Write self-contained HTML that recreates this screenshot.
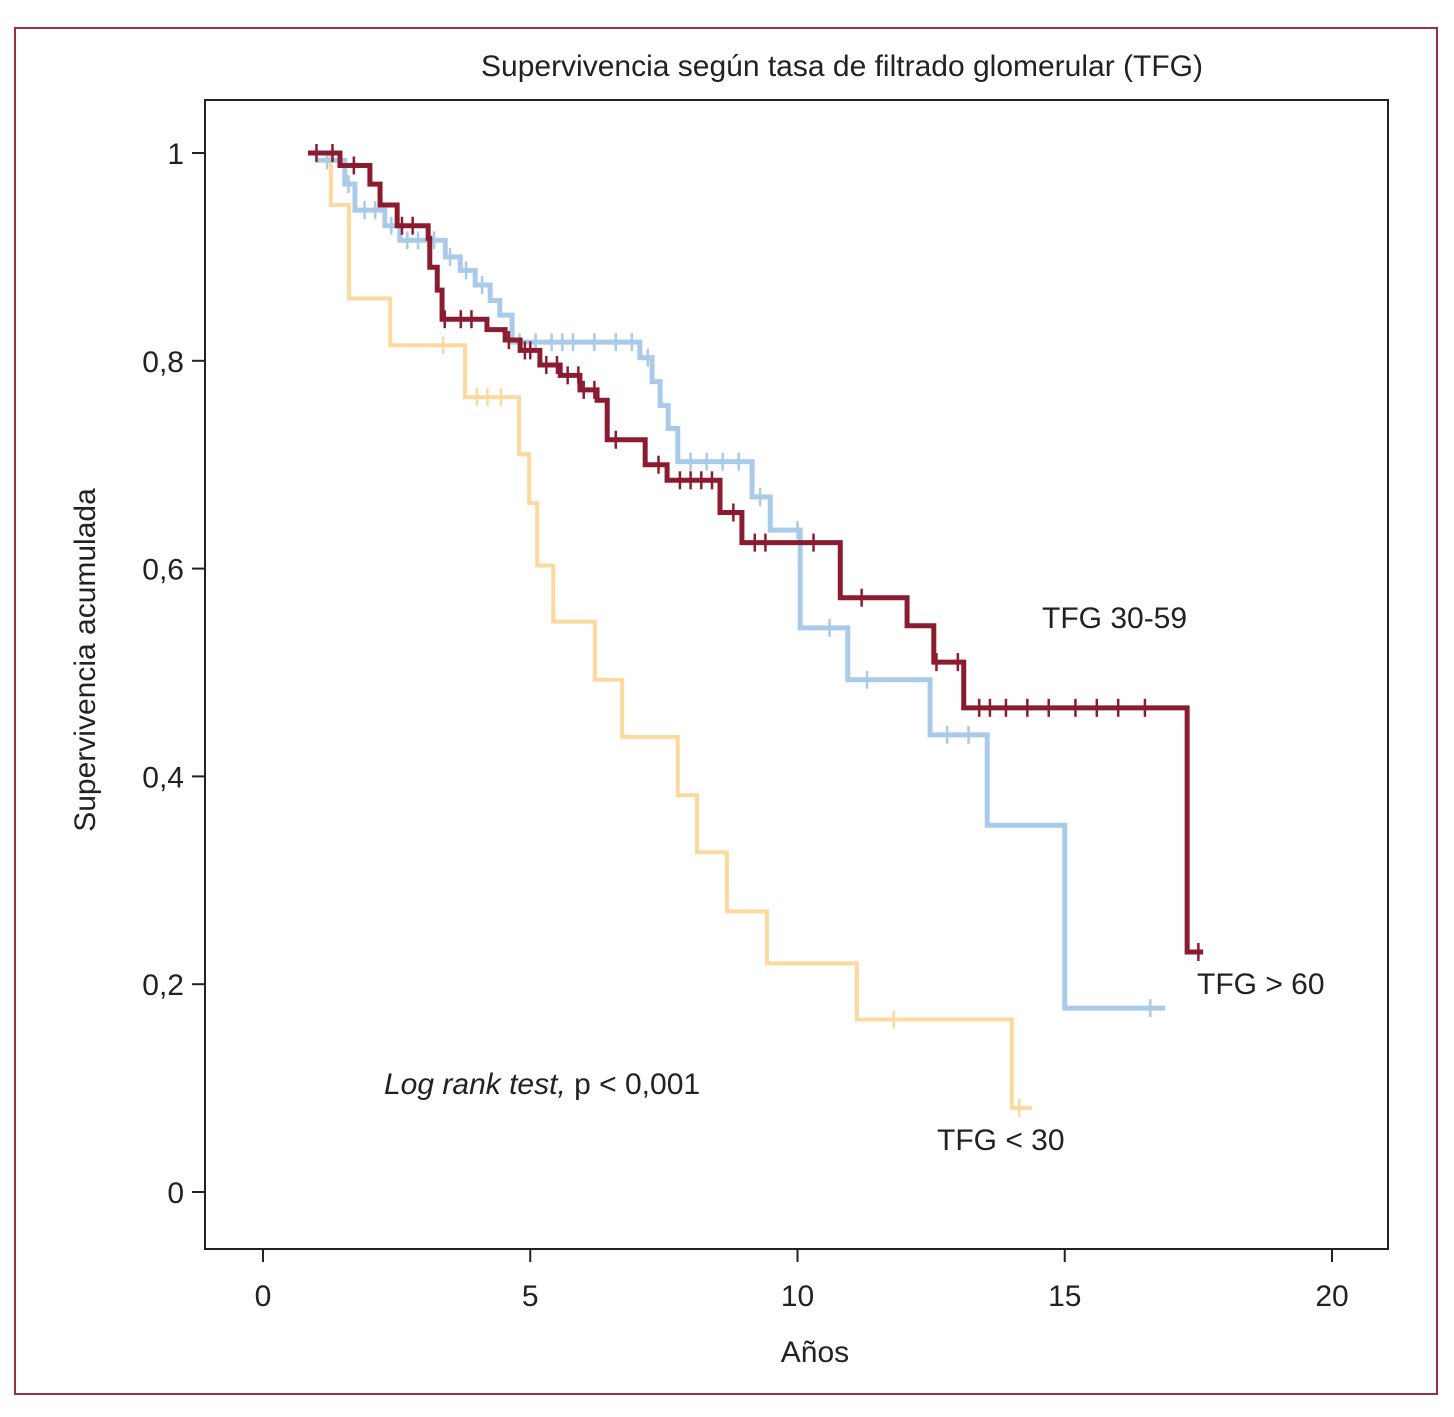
<!DOCTYPE html>
<html><head><meta charset="utf-8"><style>
html,body{margin:0;padding:0;background:#fff}
svg text{font-family:"Liberation Sans Narrow","Liberation Sans",sans-serif;fill:#222}
</style></head><body>
<svg id="chart" width="1454" height="1412" viewBox="0 0 1454 1412" xmlns="http://www.w3.org/2000/svg">
<rect x="15" y="28" width="1422" height="1366" fill="none" stroke="#9c3040" stroke-width="2"/>
<text x="842" y="76" font-size="30" text-anchor="middle">Supervivencia según tasa de filtrado glomerular (TFG)</text>
<rect x="205" y="100" width="1183" height="1149" fill="none" stroke="#222" stroke-width="2"/>
<g id="axes"></g>
<g id="series"></g>
<text x="95" y="660" font-size="30" text-anchor="middle" transform="rotate(-90 95 660)">Supervivencia acumulada</text>
<text x="815" y="1362" font-size="30" text-anchor="middle">Años</text>
<text x="1042" y="628" font-size="30">TFG 30-59</text>
<text x="1197" y="994" font-size="30">TFG &gt; 60</text>
<text x="937" y="1150" font-size="30">TFG &lt; 30</text>
<text x="384" y="1094" font-size="30"><tspan font-style="italic">Log rank test,</tspan> p &lt; 0,001</text>
</svg>
<script>
const xTicks=[0,5,10,15,20];
const yTicks=[0,0.2,0.4,0.6,0.8,1];
const yTickLabels=["0","0,2","0,4","0,6","0,8","1"];
// TFG < 30
const lowStart=[0.88,1.0];
const lowTimes=[1.27,1.61,2.38,3.78,4.79,4.98,5.13,5.43,6.21,6.72,7.76,8.12,8.68,9.43,11.11,14.01];
const lowSurv=[0.95,0.86,0.815,0.765,0.71,0.663,0.603,0.549,0.493,0.438,0.382,0.327,0.27,0.22,0.166,0.081];
const lowEnd=14.39;
const lowCens=[3.37,4.0,4.2,4.45,11.8,14.15];
// TFG 30-59
const midStart=[0.84,1.0];
const midTimes=[1.44,2.0,2.19,2.51,3.09,3.12,3.26,3.35,4.19,4.53,4.81,5.18,5.56,5.93,6.25,6.44,7.15,7.56,8.55,8.96,10.8,12.05,12.55,13.11,17.29];
const midSurv=[0.988,0.97,0.95,0.93,0.918,0.89,0.868,0.84,0.83,0.82,0.81,0.796,0.786,0.772,0.762,0.724,0.70,0.685,0.654,0.625,0.572,0.545,0.51,0.466,0.231];
const midEnd=17.59;
const midCens=[1.0,1.3,1.7,2.6,2.8,3.4,3.7,3.9,4.6,4.9,5.0,5.3,5.5,5.7,5.9,6.0,6.2,6.6,7.4,7.8,8.0,8.2,8.4,8.8,9.2,9.4,10.3,11.2,12.6,13.0,13.4,13.6,13.9,14.3,14.7,15.2,15.6,16.0,16.5,17.5];
// TFG > 60
const highStart=[0.98,0.993];
const highTimes=[1.53,1.72,2.28,2.56,3.41,3.69,3.97,4.25,4.43,4.66,7.05,7.28,7.43,7.58,7.76,9.15,9.49,10.05,10.94,12.48,13.55,15.0];
const highSurv=[0.97,0.945,0.93,0.916,0.90,0.887,0.873,0.858,0.844,0.818,0.803,0.78,0.757,0.735,0.703,0.669,0.637,0.543,0.493,0.44,0.353,0.177];
const highEnd=16.88;
const highCens=[1.2,1.6,1.9,2.1,2.4,2.7,2.9,3.2,3.5,3.8,4.1,4.8,5.1,5.4,5.6,5.8,6.2,6.6,6.9,7.2,8.0,8.3,8.6,8.9,9.3,10.0,10.6,11.3,12.8,13.2,16.6];

const X=t=>263+t*53.45, Y=s=>1192-s*1039;
const NS="http://www.w3.org/2000/svg";
function mk(tag,attrs,parent){const e=document.createElementNS(NS,tag);for(const k in attrs)e.setAttribute(k,attrs[k]);parent.appendChild(e);return e;}
const ax=document.getElementById('axes');
xTicks.forEach(v=>{
 const l=mk('line',{x1:X(v),x2:X(v),y1:1249,y2:1262,stroke:'#222','stroke-width':2},ax);
 
 
 const t=mk('text',{x:X(v),y:1306,'font-size':30,'text-anchor':'middle'},ax);t.textContent=v;
 
 
});
yTicks.forEach((v,i)=>{
 const l=mk('line',{x1:192,x2:205,y1:Y(v),y2:Y(v),stroke:'#222','stroke-width':2},ax);
 
 
 const t=mk('text',{x:184,y:Y(v)+11,'font-size':30,'text-anchor':'end'},ax);t.textContent=yTickLabels[i];
 
 
});
const sg=document.getElementById('series');
function draw(name,start,times,surv,end,cens,color,w){
 let d=`M${X(start[0])},${Y(start[1])}`;
 times.forEach((t,i)=>{d+=` H${X(t)} V${Y(surv[i])}`;});
 d+=` H${X(end)}`;
 const p=mk('path',{d:d,fill:'none',stroke:color,'stroke-width':w},sg);
 
 
 cens.forEach(c=>{
  let s=start[1];times.forEach((t,i)=>{if(t<=c)s=surv[i];});
  const m=mk('line',{x1:X(c),x2:X(c),y1:Y(s)-9,y2:Y(s)+9,stroke:color,'stroke-width':2.5},sg);
  
  
 });
}
draw('tfg-under-30',lowStart,lowTimes,lowSurv,lowEnd,lowCens,'#fdd9a0',4);
draw('tfg-over-60',highStart,highTimes,highSurv,highEnd,highCens,'#a9cbe9',5);
draw('tfg-30-59',midStart,midTimes,midSurv,midEnd,midCens,'#8b1c30',5);
</script>
</body></html>
